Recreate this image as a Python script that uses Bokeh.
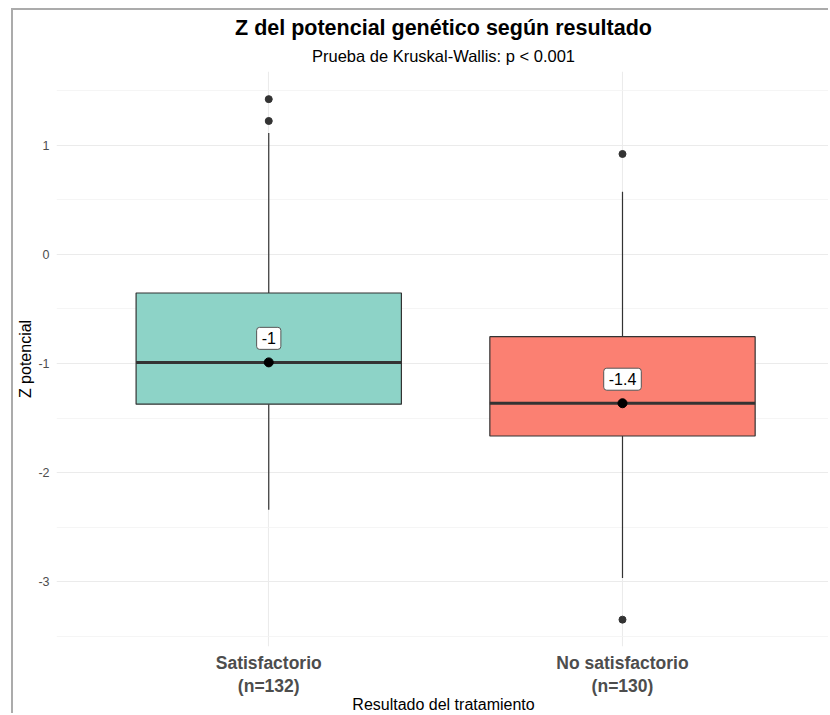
from bokeh.plotting import figure
from bokeh.models import (Range1d, FixedTicker, Title, Label, ColumnDataSource)
from bokeh.embed import file_html
from bokeh.resources import INLINE

# Box-plot summary of the potential Z score per treatment result
categories = ["Satisfactorio", "No satisfactorio"]
n_obs = [132, 130]
q1 = [-1.373, -1.664]
median = [-0.99, -1.364]
q3 = [-0.355, -0.755]
whisker_low = [-2.34, -2.964]
whisker_high = [1.11, 0.573]
outlier_group = [0, 0, 1, 1]
outlier_value = [1.42, 1.22, 0.918, -3.345]
fills = ["#8DD3C7", "#FB8072"]

y_ticks = [-3, -2, -1, 0, 1]
y_minor = [-3.5, -2.5, -1.5, -0.5, 0.5, 1.5]

FONT = "Liberation Sans"
pos = [i + 1 for i in range(len(categories))]

p = figure(width=817, height=705, output_backend="svg", toolbar_location=None,
           x_range=Range1d(0.4, 2.588), y_range=Range1d(-3.591, 1.673),
           min_border_left=43, min_border_right=0, min_border_top=61,
           min_border_bottom=66, title=None)
p.styles = {"margin-left": "11px", "margin-top": "8px",
            "border-top": "2px solid #ababab", "border-left": "2px solid #ababab"}
p.outline_line_color = None
p.background_fill_color = "white"
p.border_fill_color = "white"

# grid
p.ygrid.ticker = FixedTicker(ticks=y_ticks, minor_ticks=y_minor)
p.ygrid.grid_line_color = "#ebebeb"
p.ygrid.grid_line_width = 1.1
p.ygrid.minor_grid_line_color = "#f2f2f2"
p.ygrid.minor_grid_line_width = 0.8
p.xgrid.ticker = FixedTicker(ticks=pos)
p.xgrid.grid_line_color = "#ebebeb"
p.xgrid.grid_line_width = 1.1

# axes
p.yaxis.ticker = FixedTicker(ticks=y_ticks, minor_ticks=[])
p.yaxis.major_label_overrides = {t: f"{t}" for t in y_ticks}
p.yaxis.axis_line_color = None
p.yaxis.major_tick_line_color = None
p.yaxis.minor_tick_line_color = None
p.yaxis.major_tick_out = 0
p.yaxis.major_tick_in = 0
p.yaxis.minor_tick_out = 0
p.yaxis.major_label_text_font = FONT
p.yaxis.major_label_text_font_size = "12.5px"
p.yaxis.major_label_text_color = "#4d4d4d"
p.yaxis.major_label_standoff = 7
p.yaxis.axis_label = "Z potencial"
p.yaxis.axis_label_text_font = FONT
p.yaxis.axis_label_text_font_size = "16px"
p.yaxis.axis_label_text_font_style = "normal"
p.yaxis.axis_label_text_color = "black"
p.yaxis.axis_label_standoff = 1

p.xaxis.ticker = FixedTicker(ticks=pos, minor_ticks=[])
p.xaxis.major_label_overrides = {x: f"{c}\n(n={n})" for x, c, n in zip(pos, categories, n_obs)}
p.xaxis.axis_line_color = None
p.xaxis.major_tick_line_color = None
p.xaxis.minor_tick_line_color = None
p.xaxis.major_tick_out = 0
p.xaxis.major_tick_in = 0
p.xaxis.minor_tick_out = 0
p.xaxis.major_label_text_font = FONT
p.xaxis.major_label_text_font_size = "17.5px"
p.xaxis.major_label_text_font_style = "bold"
p.xaxis.major_label_text_color = "#4d4d4d"
p.xaxis.major_label_text_line_height = 1.17
p.xaxis.major_label_standoff = 6
p.xaxis.axis_label = "Resultado del tratamiento"
p.xaxis.axis_label_text_font = FONT
p.xaxis.axis_label_text_font_size = "16px"
p.xaxis.axis_label_text_font_style = "normal"
p.xaxis.axis_label_text_color = "black"
p.xaxis.axis_label_standoff = -3

# titles (first added sits closest to the plot)
p.add_layout(Title(text="Prueba de Kruskal-Wallis: p < 0.001", align="center",
                   text_font=FONT, text_font_size="16.5px", text_font_style="normal",
                   text_color="black", standoff=13), "above")
p.add_layout(Title(text="Z del potencial genético según resultado", align="center",
                   text_font=FONT, text_font_size="21.5px", text_font_style="bold",
                   text_color="black", standoff=-3), "above")

src = ColumnDataSource(dict(x=pos, q1=q1, q3=q3, med=median, lo=whisker_low,
                            hi=whisker_high, fill=fills,
                            left=[x - 0.375 for x in pos], right=[x + 0.375 for x in pos]))

# whiskers
p.segment(x0="x", y0="q3", x1="x", y1="hi", source=src, line_color="#333333", line_width=1.2)
p.segment(x0="x", y0="q1", x1="x", y1="lo", source=src, line_color="#333333", line_width=1.2)
# boxes
p.quad(left="left", right="right", bottom="q1", top="q3", source=src,
       fill_color="fill", line_color="#333333", line_width=1.2)
# medians
p.segment(x0="left", y0="med", x1="right", y1="med", source=src,
          line_color="#333333", line_width=3)
p.scatter(x="x", y="med", source=src, size=9, color="black")

# outliers
p.scatter(x=[pos[g] for g in outlier_group], y=outlier_value, size=7,
          color="#333333")

# median value labels
for x, m in zip(pos, median):
    p.add_layout(Label(x=x, y=m + 0.22, text=f"{round(m, 1):g}",
                       text_align="center", text_baseline="middle",
                       text_font=FONT, text_font_size="16px", text_color="black",
                       background_fill_color="white", border_line_color="#555555",
                       border_line_width=1, padding=5, border_radius=3))

open("out.html", "w").write(file_html(p, INLINE))
